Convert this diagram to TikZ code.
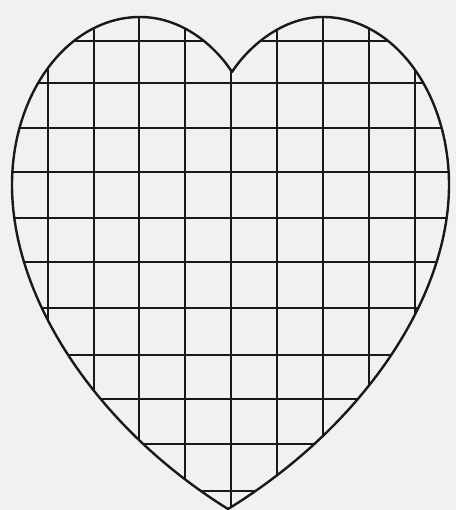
\documentclass[tikz,border=0pt]{standalone}
\definecolor{paper}{RGB}{241,241,241}
\definecolor{ink}{RGB}{25,25,25}
\begin{document}
\begin{tikzpicture}[x=1pt,y=-1pt,
  outline/.style={draw=ink,line width=2.4pt,line join=round},
  gridline/.style={draw=ink,line width=1.6pt}]
\fill[paper] (0,0) rectangle (456,510);
\useasboundingbox (0,0) rectangle (456,510);
\def\heartpath{(232,72) .. controls (218,50) and (185,17) .. (140,17)
  .. controls (69,17) and (12,92) .. (12,185)
  .. controls (12,300) and (98,428) .. (228,509)
  .. controls (360,428) and (449,300) .. (449,185)
  .. controls (449,92) and (393,17) .. (323,17)
  .. controls (280,17) and (246,50) .. (232,72) -- cycle}
\begin{scope}
  \clip \heartpath;
  \foreach \xx in {48,94,139,185,231,277,323,369,415}
    \draw[gridline] (\xx,0) -- (\xx,510);
  \foreach \yy in {41,83,128,172,218,262,308,355,399,444,491}
    \draw[gridline] (0,\yy) -- (456,\yy);
\end{scope}
\draw[outline] \heartpath;
\end{tikzpicture}
\end{document}
